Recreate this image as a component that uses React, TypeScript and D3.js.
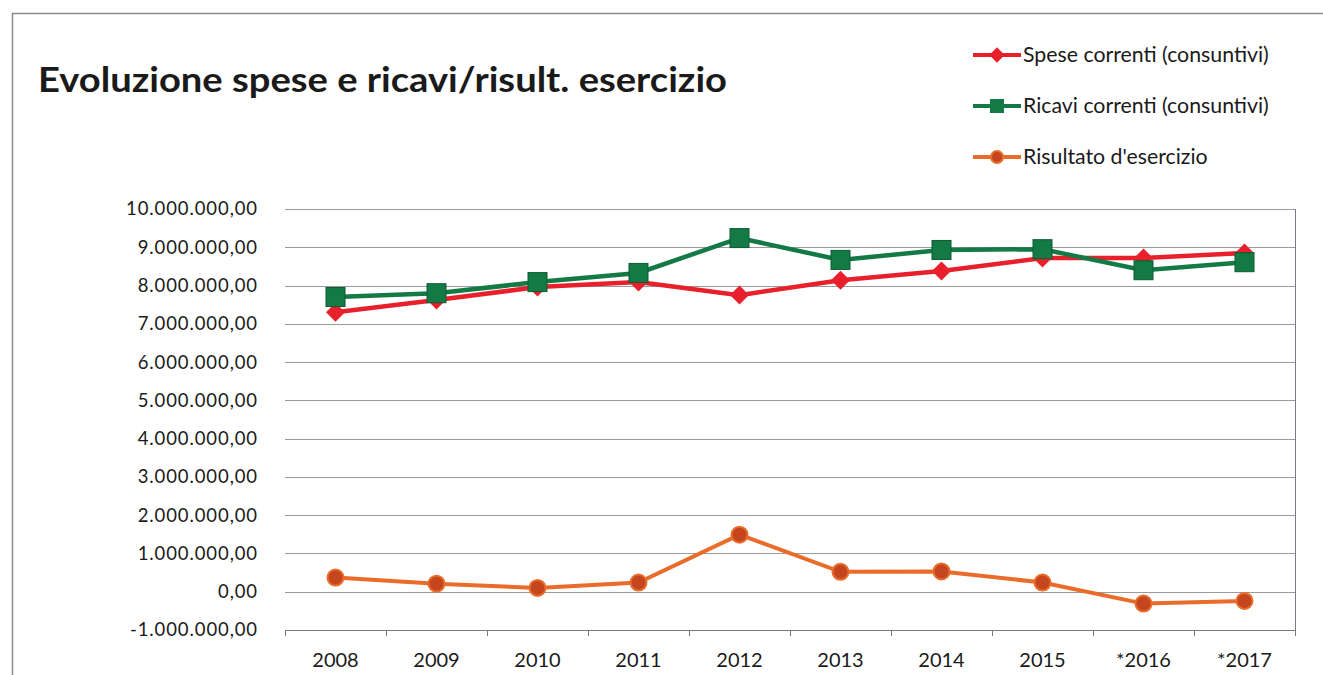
import React, { useEffect, useRef } from 'react';
import * as d3 from 'd3';

const years = ['2008', '2009', '2010', '2011', '2012', '2013', '2014', '2015', '*2016', '*2017'];
const spese = [7300000, 7620000, 7960000, 8090000, 7750000, 8140000, 8380000, 8720000, 8720000, 8850000];
const ricavi = [7700000, 7800000, 8090000, 8330000, 9240000, 8670000, 8930000, 8950000, 8400000, 8610000];
const risultato = [370000, 210000, 100000, 240000, 1490000, 520000, 530000, 240000, -310000, -240000];
const yTicks = [-1000000, 0, 1000000, 2000000, 3000000, 4000000, 5000000, 6000000, 7000000, 8000000, 9000000, 10000000];

const FONT = 'Lato, "Open Sans", sans-serif';

const fmt = (v: number) => {
  const s = d3.format(',.2f')(v);
  return s.replace(/,/g, '#').replace('.', ',').replace(/#/g, '.').replace('−', '-');
};

const App = () => {
  const svgRef = useRef<SVGSVGElement>(null);

  useEffect(() => {
    const svg = d3.select(svgRef.current);
    svg.selectAll('*').remove();

    const W = 1323;
    const H = 675;
    const margin = { top: 209, right: 28, bottom: 45, left: 285 };
    const width = W - margin.left - margin.right;
    const height = H - margin.top - margin.bottom;

    svg.append('rect').attr('width', W).attr('height', H).attr('fill', '#fff');
    // outer frame
    svg.append('path').attr('d', `M12.5,${H} V13.5 H${W}`).attr('fill', 'none').attr('stroke', '#8a8a8a').attr('stroke-width', 1.5);

    svg.append('text')
      .attr('x', 38).attr('y', 92)
      .attr('font-family', FONT).attr('font-weight', 'bold').attr('font-size', 35)
      .attr('textLength', 689).attr('lengthAdjust', 'spacingAndGlyphs')
      .attr('fill', '#1a1a1a')
      .text('Evoluzione spese e ricavi/risult. esercizio');

    const chart = svg.append('g').attr('transform', `translate(${margin.left},${margin.top})`);

    const x = d3.scaleBand().domain(years).range([0, width]);
    const y = d3.scaleLinear().domain([-1000000, 10000000]).range([height, 0]);

    // gridlines
    chart.selectAll('.grid').data(yTicks).enter().append('line')
      .attr('x1', 0).attr('x2', width)
      .attr('y1', (d) => Math.round(y(d)) + 0.5).attr('y2', (d) => Math.round(y(d)) + 0.5)
      .attr('stroke', '#9a9a9a').attr('stroke-width', 1);

    // right border
    chart.append('line').attr('x1', width + 0.5).attr('x2', width + 0.5).attr('y1', 0).attr('y2', height + 6)
      .attr('stroke', '#7a7a8a').attr('stroke-width', 1);

    // y labels
    chart.selectAll('.ylab').data(yTicks).enter().append('text')
      .attr('x', -27).attr('y', (d) => y(d)).attr('dy', '0.35em')
      .attr('text-anchor', 'end')
      .attr('font-family', FONT).attr('font-size', 18.5).attr('letter-spacing', 0.9).attr('fill', '#1a1a1a')
      .text((d) => fmt(d));

    // x axis
    const xAxis = chart.append('g').attr('transform', `translate(0,${height})`)
      .call(d3.axisBottom(x).tickSize(0).tickPadding(22));
    xAxis.select('.domain').attr('stroke', '#7a7a7a');
    xAxis.selectAll('text').attr('font-family', FONT).attr('font-size', 20).attr('fill', '#1a1a1a')
      .attr('y', 37).attr('dy', 0);
    chart.selectAll('.xtick').data(d3.range(years.length + 1)).enter().append('line')
      .attr('x1', (i) => Math.round(i * x.step()) + 0.5).attr('x2', (i) => Math.round(i * x.step()) + 0.5)
      .attr('y1', height).attr('y2', height + 6)
      .attr('stroke', '#7a7a7a');

    const cx = (i: number) => (x(years[i]) as number) + x.bandwidth() / 2;
    const line = d3.line<number>().x((_, i) => cx(i)).y((d) => y(d));

    // risultato
    chart.append('path').datum(risultato).attr('d', line)
      .attr('fill', 'none').attr('stroke', '#ea6c2a').attr('stroke-width', 4);
    chart.selectAll('.ris').data(risultato).enter().append('circle')
      .attr('cx', (_, i) => cx(i)).attr('cy', (d) => y(d)).attr('r', 8)
      .attr('fill', '#c4461f').attr('stroke', '#ea6c2a').attr('stroke-width', 2);

    // spese
    chart.append('path').datum(spese).attr('d', line)
      .attr('fill', 'none').attr('stroke', '#e8202c').attr('stroke-width', 4.5);
    chart.selectAll('.spe').data(spese).enter().append('path')
      .attr('d', d3.symbol(d3.symbolDiamond2, 230)())
      .attr('transform', (d, i) => `translate(${cx(i)},${y(d)})`)
      .attr('fill', '#e8202c');

    // ricavi
    chart.append('path').datum(ricavi).attr('d', line)
      .attr('fill', 'none').attr('stroke', '#137a45').attr('stroke-width', 4.5);
    chart.selectAll('.ric').data(ricavi).enter().append('rect')
      .attr('x', (_, i) => cx(i) - 9.5).attr('y', (d) => y(d) - 9.5)
      .attr('width', 19).attr('height', 19)
      .attr('fill', '#137a45').attr('stroke', '#0d5a32').attr('stroke-width', 1);

    // legend
    const legend = [
      { label: 'Spese correnti (consuntivi)', color: '#e8202c', kind: 'diamond' },
      { label: 'Ricavi correnti (consuntivi)', color: '#137a45', kind: 'square' },
      { label: "Risultato d'esercizio", color: '#ea6c2a', kind: 'circle' },
    ];
    const lg = svg.append('g');
    legend.forEach((l, i) => {
      const ly = 55 + i * 51;
      lg.append('line').attr('x1', 973).attr('x2', 1021).attr('y1', ly).attr('y2', ly)
        .attr('stroke', l.color).attr('stroke-width', 4);
      if (l.kind === 'diamond') {
        lg.append('path').attr('d', d3.symbol(d3.symbolDiamond2, 150)())
          .attr('transform', `translate(997,${ly})`).attr('fill', l.color);
      } else if (l.kind === 'square') {
        lg.append('rect').attr('x', 990).attr('y', ly - 7).attr('width', 14).attr('height', 14).attr('fill', l.color);
      } else {
        lg.append('circle').attr('cx', 997).attr('cy', ly).attr('r', 6)
          .attr('fill', '#c4461f').attr('stroke', l.color).attr('stroke-width', 2);
      }
      lg.append('text').attr('x', 1023).attr('y', ly).attr('dy', '0.35em')
        .attr('font-family', FONT).attr('font-size', 21.3).attr('fill', '#1a1a1a')
        .text(l.label);
    });
  }, []);

  return <svg ref={svgRef} width={1323} height={675} style={{ position: 'absolute', left: 0, top: 0 }} />;
};

export default App;
